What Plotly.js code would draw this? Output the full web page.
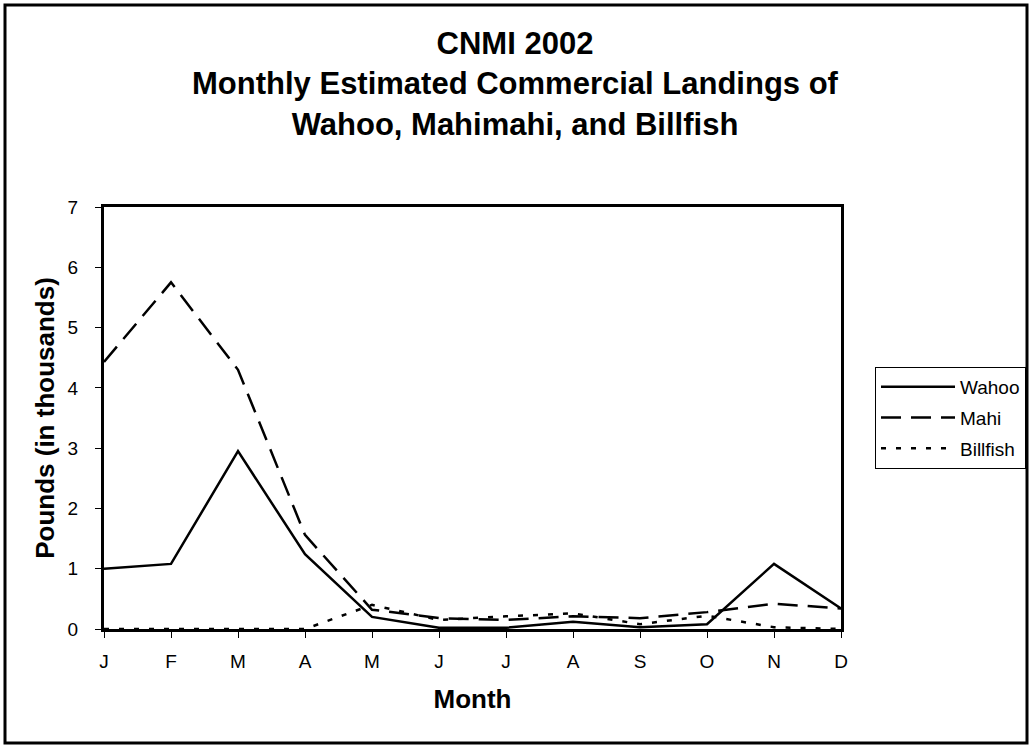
<!DOCTYPE html>
<html>
<head>
<meta charset="utf-8">
<script src="https://cdn.plot.ly/plotly-3.0.1.min.js"></script>
<style>
  html, body { margin: 0; padding: 0; background: #fff; }
  #chart { width: 1030px; height: 748px; }
</style>
</head>
<body>
<div id="chart"></div>
<script>
// -------- DATA (pounds, in thousands) --------
const months = ['J', 'F', 'M', 'A', 'M', 'J', 'J', 'A', 'S', 'O', 'N', 'D'];
const wahoo = [1.0, 1.08, 2.95, 1.24, 0.2, 0.02, 0.02, 0.12, 0.03, 0.08, 1.08, 0.34];
const mahi = [4.43, 5.75, 4.3, 1.56, 0.32, 0.18, 0.15, 0.21, 0.18, 0.28, 0.42, 0.34];
const billfish = [0, 0, 0, 0, 0.4, 0.15, 0.21, 0.26, 0.08, 0.22, 0.03, 0];

// month names repeat (J, M, A), so plot on positions and label the ticks
const monthPos = months.map((m, i) => i);

const font = 'Liberation Sans, Arial, sans-serif';

// -------- TRACES --------
function series(name, values, dash, group) {
  return {
    x: monthPos,
    y: values,
    type: 'scatter',
    mode: 'lines',
    name: name,
    legendgroup: group,
    line: { color: '#000', width: 2.5, dash: dash },
    hoverinfo: 'skip'
  };
}

const traces = [
  series('Wahoo', wahoo, 'solid', 'a'),
  series('Mahi', mahi, '20px,10px', 'b'),
  series('Billfish', billfish, '5px,10px', 'c')
];

// -------- LAYOUT --------
const layout = {
  width: 1030,
  height: 748,
  margin: { l: 104, r: 189, t: 207, b: 119, autoexpand: false },
  paper_bgcolor: '#fff',
  plot_bgcolor: '#fff',
  font: { family: font, size: 19, color: '#000' },
  title: {
    text: 'CNMI 2002<br>Monthly Estimated Commercial Landings of<br>Wahoo, Mahimahi, and Billfish',
    font: { family: font, size: 31, weight: 'bold', color: '#000' },
    xref: 'container', x: 0.5, xanchor: 'center',
    yref: 'container', y: 1 - 54 / 748, yanchor: 'top'
  },
  xaxis: {
    range: [0, 11],
    tickvals: monthPos,
    ticktext: months,
    showgrid: false,
    zeroline: false,
    showline: true, mirror: true,
    linecolor: '#000', linewidth: 3,
    ticks: 'outside', ticklen: 6, tickwidth: 1, tickcolor: '#000',
    ticklabelstandoff: 7,
    tickfont: { size: 19 },
    title: { text: 'Month', font: { size: 26, weight: 'bold' }, standoff: 20 }
  },
  yaxis: {
    range: [0, 7],
    dtick: 1,
    showgrid: false,
    zeroline: false,
    showline: true, mirror: true,
    linecolor: '#000', linewidth: 3,
    ticks: 'outside', ticklen: 6, tickwidth: 1, tickcolor: '#000',
    ticklabelstandoff: 13,
    tickfont: { size: 19 },
    title: { text: 'Pounds (in thousands)', font: { size: 26, weight: 'bold' }, standoff: 6 }
  },
  showlegend: true,
  legend: {
    x: (875 - 104) / 737, xanchor: 'left',
    y: 0.5, yanchor: 'middle',
    bgcolor: '#fff',
    bordercolor: '#000', borderwidth: 1,
    font: { family: font, size: 19 },
    itemwidth: 74,
    traceorder: 'grouped',
    tracegroupgap: 3
  },
  // outer chart frame
  shapes: [{
    type: 'rect', xref: 'paper', yref: 'paper',
    x0: (5 - 104) / 737, x1: (1027 - 104) / 737,
    y0: (629 - 743) / 422, y1: (629 - 5) / 422,
    line: { color: '#000', width: 3 },
    fillcolor: 'rgba(0,0,0,0)'
  }]
};

Plotly.newPlot('chart', traces, layout, { displayModeBar: false, responsive: false });
</script>
</body>
</html>
